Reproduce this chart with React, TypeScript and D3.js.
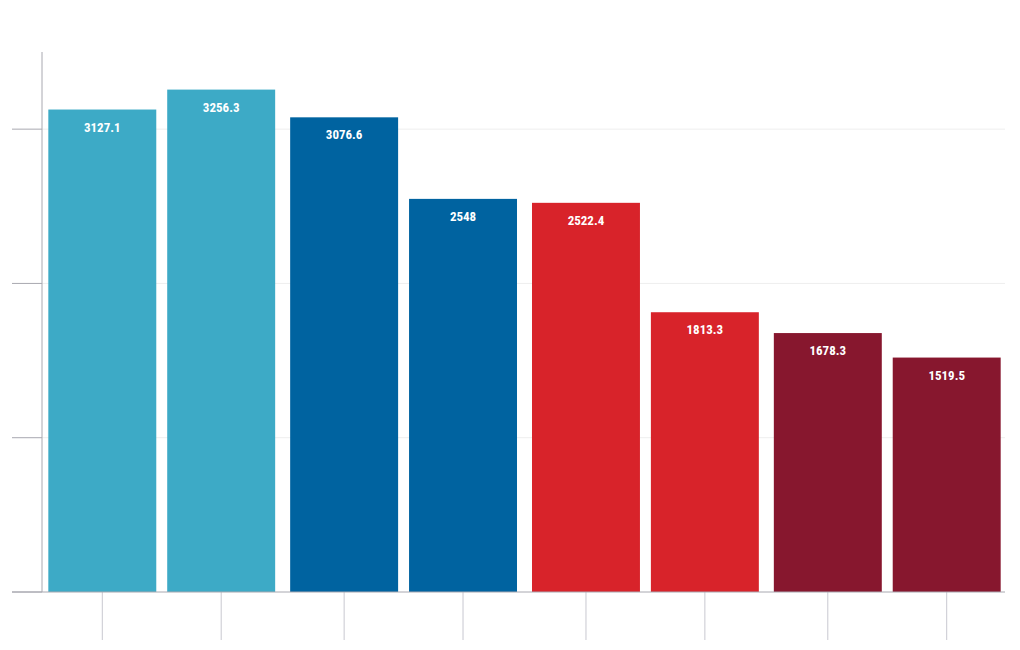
import React from "react";
import * as d3 from "d3";

const groups = ["G1", "G2", "G3", "G4"];
const seriesKeys = ["a", "b"];
const values: number[][] = [
  [3127.1, 3256.3],
  [3076.6, 2548],
  [2522.4, 1813.3],
  [1678.3, 1519.5],
];
const groupColors = ["#3DAAC6", "#0063A0", "#D8232A", "#87172E"];
const yTicks = [0, 1000, 2000, 3000];

const W = 1020;
const H = 650;
const baseY = 592;
const topY = 52;
const axisX = 42;
const rightX = 1005;

export default function App() {
  const y = d3.scaleLinear().domain([0, 3500]).range([baseY, topY]);
  const x0 = d3
    .scaleBand<string>()
    .domain(groups)
    .range([axisX + 1, rightX + 1])
    .paddingInner(0.062)
    .paddingOuter(0.022);
  const x1 = d3
    .scaleBand<string>()
    .domain(seriesKeys)
    .range([0, x0.bandwidth()])
    .paddingInner(0.092);

  const fontFamily =
    "'Roboto Condensed', 'Liberation Sans Narrow', 'DejaVu Sans Condensed', Roboto, sans-serif";

  return (
    <svg
      width={W}
      height={H}
      style={{ position: "absolute", left: 0, top: 0, display: "block" }}
    >
      <rect width={W} height={H} fill="#fff" />
      {yTicks
        .filter((t) => t > 0)
        .map((t) => (
          <line
            key={"g" + t}
            x1={axisX}
            x2={rightX}
            y1={y(t)}
            y2={y(t)}
            stroke="#EEEEEE"
            strokeWidth={1}
          />
        ))}
      {groups.map((g, gi) =>
        seriesKeys.map((k, si) => {
          const v = values[gi][si];
          const bx = (x0(g) as number) + (x1(k) as number);
          const bw = x1.bandwidth();
          return (
            <g key={g + k}>
              <rect
                x={bx}
                y={y(v)}
                width={bw}
                height={baseY - y(v)}
                fill={groupColors[gi]}
              />
              <text
                x={bx + bw / 2}
                y={y(v) + 22}
                textAnchor="middle"
                fill="#fff"
                fontFamily={fontFamily}
                fontWeight="bold"
                fontSize={13}
              >
                {String(v)}
              </text>
              <line
                x1={bx + bw / 2}
                x2={bx + bw / 2}
                y1={baseY}
                y2={640}
                stroke="#C8C8D0"
                strokeWidth={1}
              />
            </g>
          );
        })
      )}
      {yTicks.map((t) => (
        <line
          key={"t" + t}
          x1={12}
          x2={axisX}
          y1={y(t)}
          y2={y(t)}
          stroke="#A8A8B0"
          strokeWidth={1}
        />
      ))}
      <line
        x1={axisX}
        x2={axisX}
        y1={topY}
        y2={baseY}
        stroke="#A8A8B0"
        strokeWidth={1}
      />
      <line
        x1={12}
        x2={rightX}
        y1={baseY}
        y2={baseY}
        stroke="#A8A8B0"
        strokeWidth={1}
      />
    </svg>
  );
}
